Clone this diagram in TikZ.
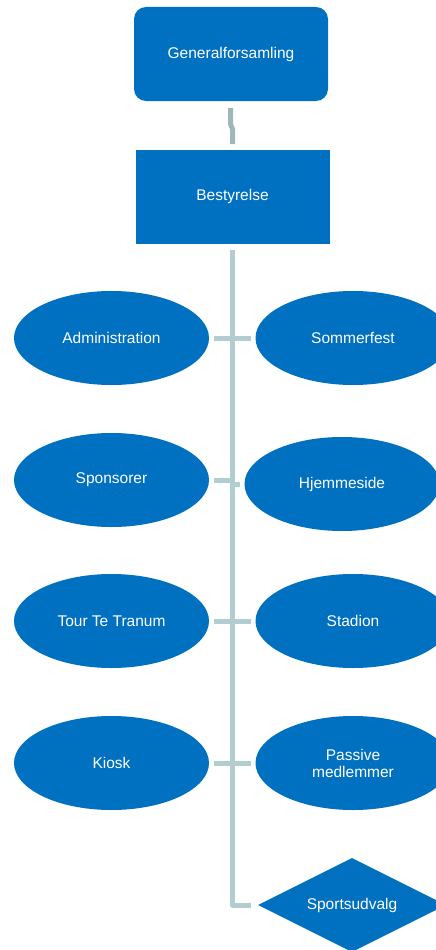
\documentclass[tikz,border=0pt]{standalone}
\usepackage{fontspec}
\setmainfont{Liberation Sans}
\usetikzlibrary{shapes.geometric}
\definecolor{boxblue}{HTML}{0070C0}
\definecolor{linegray}{HTML}{B2CDD0}
\definecolor{linedark}{HTML}{9DB7BA}
\tikzset{
  shp/.style={fill=boxblue,draw=none,text=white,inner sep=0pt,align=center,
    font=\fontsize{15.5}{17}\selectfont},
  rbox/.style={shp,rectangle,minimum width=194pt,minimum height=94pt},
  oval/.style={shp,ellipse,minimum width=195pt,minimum height=94pt},
  dmd/.style={shp,diamond,minimum width=188pt,minimum height=94pt,aspect=2},
  conn/.style={draw=linegray,line width=5pt},
  conntop/.style={draw=linedark,line width=5pt}
}
\begin{document}
\begin{tikzpicture}[x=1pt,y=-1pt]
\useasboundingbox (0,0) rectangle (436,950);
\clip (0,0) rectangle (436,950);
\node[rbox,rounded corners=12pt] (gf) at (231,54) {Generalforsamling};
\node[rbox] (best) at (232.5,196.5) {Bestyrelse};
\node[oval] (adm) at (111.5,338) {Administration};
\node[oval] (som) at (353,338) {Sommerfest};
\node[oval] (spo) at (111.5,480) {Sponsorer};
\node[oval] (hje) at (342,484) {Hjemmeside};
\node[oval] (tou) at (111.5,621) {Tour Te Tranum};
\node[oval] (sta) at (353,621) {Stadion};
\node[oval] (kio) at (111.5,763) {Kiosk};
\node[oval] (pas) at (353,763) {Passive\\medlemmer};
\node[dmd] (spu) at (352,905) {Sportsudvalg};
% top connector
\coordinate (t1) at (230.5,108);
\coordinate (t2) at (230.5,124);
\coordinate (t3) at (232.5,129);
\coordinate (t4) at (232.5,144);
\draw[conntop] (t1) -- (t2) -- (t3) -- (t4);
% trunk
\coordinate (tr0) at (232.5,250);
\coordinate (tr1) at (232.5,905);
\coordinate (tr2) at (251,905);
\draw[conn,line join=round] (tr0) -- (tr1) -- (tr2);
% stubs
\foreach \l/\r/\yl/\yr/\xr in {adm/som/338/338/251, spo/hje/480/484/240, tou/sta/621/621/251, kio/pas/763/763/251}{
  \coordinate (\l-s) at (214,\yl);
  \coordinate (\l-t) at (232.5,\yl);
  \coordinate (\r-s) at (232.5,\yr);
  \coordinate (\r-t) at (\xr,\yr);
  \draw[conn] (\l-s) -- (\l-t);
  \draw[conn] (\r-s) -- (\r-t);
}
\end{tikzpicture}
\end{document}
